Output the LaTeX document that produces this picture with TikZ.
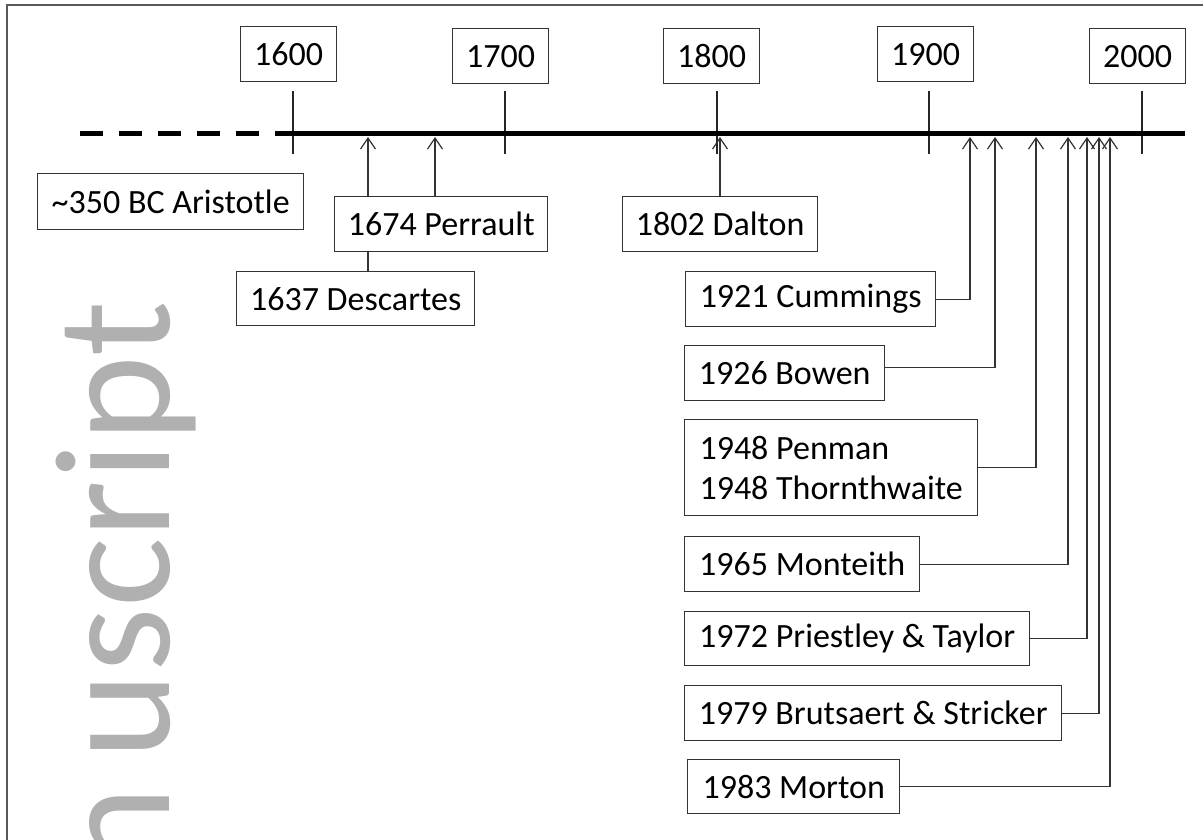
\documentclass[tikz,border=0pt]{standalone}
\usepackage{fontspec}
\setmainfont{Carlito}
\usetikzlibrary{arrows.meta}
\begin{document}
\begin{tikzpicture}[x=1pt,y=-1pt,
  yearbox/.style={draw=black!80, line width=1.4pt, fill=white, minimum width=96pt, minimum height=55pt, inner sep=0pt, anchor=north west, font=\fontsize{34}{40}\selectfont},
  evbox/.style={draw=black!80, line width=1.4pt, fill=white, inner sep=0pt, anchor=north west, align=left, font=\fontsize{34}{40}\selectfont},
  tickline/.style={line width=1.3pt, black!85},
  conn/.style={line width=1.3pt, black!80},
  arr/.style={conn, -{Straight Barb[length=11pt,width=15pt,line width=1.2pt]}},
  axis/.style={line width=5pt, black}
]
\useasboundingbox (0,0) rectangle (1203,840);
\begin{scope}
  \clip (0,0) rectangle (1203,840);
  \draw[line width=2pt, black!65] (7,5) rectangle (1220,860);
  \node[rotate=90, anchor=base east, inner sep=0pt, text=black!31, font=\fontsize{165}{165}\selectfont] (wm) at (169,301) {n\kern28pt uscript};
\end{scope}

% timeline
\coordinate (tl0) at (80,134);
\coordinate (tl1) at (278,134);
\coordinate (tl2) at (1185,134);

% year boxes and ticks
\node[yearbox] (y1600) at (240,26) {1600};
\node[yearbox] (y1700) at (452,28) {1700};
\node[yearbox] (y1800) at (663,28) {1800};
\node[yearbox] (y1900) at (877,26) {1900};
\node[yearbox] (y2000) at (1089,28) {2000};
\foreach \x/\n in {293/1600,505/1700,717/1800,929/1900,1142/2000}{
  \coordinate (t\n a) at (\x,91);
  \coordinate (t\n b) at (\x,154);
  \draw[tickline] (t\n a) -- (t\n b);
}

% arrow targets on the timeline
\coordinate (a1637) at (368,137);
\coordinate (a1674) at (435,137);
\coordinate (a1802) at (720,137);
\coordinate (a1921) at (970,137);
\coordinate (a1926) at (995,137);
\coordinate (a1948) at (1036,137);
\coordinate (a1965) at (1068,137);
\coordinate (a1972) at (1087,137);
\coordinate (a1979) at (1099,137);
\coordinate (a1983) at (1110,137);

% left events
\node[evbox, minimum width=266pt, minimum height=56pt] (ari) at (37,173) {\textasciitilde 350 BC Aristotle};
\node[evbox, minimum width=238pt, minimum height=54pt] (desc) at (236,271) {1637 Descartes};
\draw[arr] (desc.north -| a1637) -- (a1637);
\node[evbox, minimum width=213pt, minimum height=55pt] (perr) at (334,196) {1674 Perrault};
\draw[arr] (perr.north -| a1674) -- (a1674);
\node[evbox, minimum width=195pt, minimum height=55pt] (dal) at (622,196) {1802 Dalton};
\draw[arr] (dal.north -| a1802) -- (a1802);

% right events
\node[evbox, minimum width=250pt, minimum height=55pt] (cum) at (685,271) {1921 Cummings};
\draw[arr] (cum.east) -| (a1921);
\node[evbox, minimum width=200pt, minimum height=55pt] (bow) at (684,345) {1926 Bowen};
\draw[arr] ([yshift=6pt]bow.east) -| (a1926);
\node[evbox, minimum width=293pt, minimum height=96pt] (pen) at (684,419) {1948 Penman\\1948 Thornthwaite};
\draw[arr] (pen.east) -| (a1948);
\node[evbox, minimum width=235pt, minimum height=55pt] (mon) at (684,536) {1965 Monteith};
\draw[arr] (mon.east) -| (a1965);
\node[evbox, minimum width=345pt, minimum height=54pt] (pri) at (684,611) {1972 Priestley \& Taylor};
\draw[arr] (pri.east) -| (a1972);
\node[evbox, minimum width=377pt, minimum height=55pt] (bru) at (684,685) {1979 Brutsaert \& Stricker};
\draw[arr] (bru.east) -| (a1979);
\node[evbox, minimum width=212pt, minimum height=54pt] (mor) at (687,759) {1983 Morton};
\draw[arr] (mor.east) -| (a1983);

% axis line
\draw[axis, dash pattern=on 23pt off 16pt] (tl0) -- (tl1);
\draw[axis] (tl1) -- (tl2);
\end{tikzpicture}
\end{document}
